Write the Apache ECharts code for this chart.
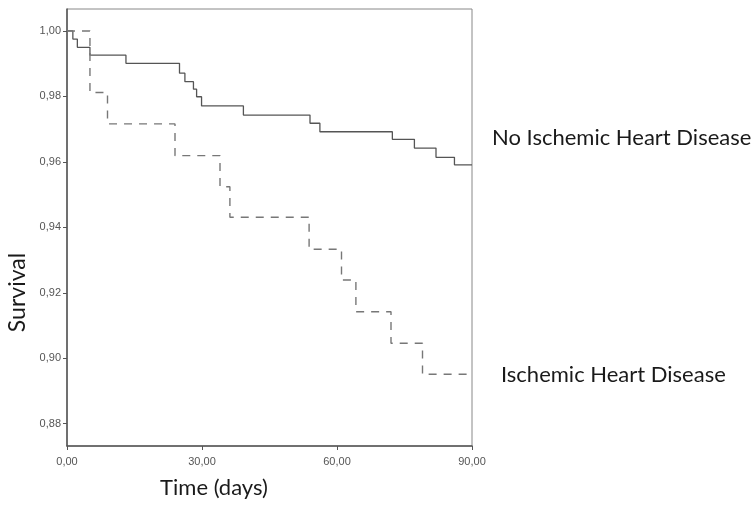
<!DOCTYPE html>
<html>
<head>
<meta charset="utf-8">
<title>Survival</title>
<script src="https://cdn.jsdelivr.net/npm/echarts@6/dist/echarts.min.js"></script>
<style>
  html, body { margin: 0; padding: 0; background: #fff; }
  #chart { width: 755px; height: 505px; }
</style>
</head>
<body>
<div id="chart"></div>
<script>
// Kaplan-Meier curves (time in days, survival fraction)
const noIhdTimes = [0, 1.3, 2.3, 5.1, 13.1, 25.0, 26.2, 28.1, 28.8, 29.9, 39.2, 54.0, 56.2, 72.3, 77.2, 82.0, 86.1, 90];
const noIhdSurvival = [1.0, 0.9975, 0.9950, 0.9926, 0.9901, 0.9871, 0.9845, 0.9822, 0.9799, 0.9771, 0.9743, 0.9718, 0.9692, 0.9669, 0.9642, 0.9614, 0.9591, 0.9591];

const ihdTimes = [0, 5.1, 9.0, 24.0, 34.0, 36.2, 53.8, 61.0, 64.2, 72.0, 79.0, 90];
const ihdSurvival = [1.0, 0.9812, 0.9716, 0.9619, 0.9524, 0.9431, 0.9333, 0.9239, 0.9142, 0.9046, 0.8951, 0.8951];

const seriesNames = ['No Ischemic Heart Disease', 'Ischemic Heart Disease'];
const yTicks = [0.88, 0.90, 0.92, 0.94, 0.96, 0.98, 1.00];
const xTicks = [0, 30, 60, 90];

const toPairs = (xs, ys) => xs.map((x, i) => [x, ys[i]]);
const commaFmt = v => Number(v).toFixed(2).replace('.', ',');

const chart = echarts.init(document.getElementById('chart'), null, { renderer: 'canvas' });

const tickLabel = { fontFamily: 'Liberation Sans, Arial, sans-serif', fontSize: 11, color: '#555' };
const titleFont = { fontFamily: 'Lato, Calibri, sans-serif', fontSize: 22, color: '#1a1a1a' };

chart.setOption({
  animation: false,
  grid: {
    left: 67, top: 9, width: 405, height: 437,
    outerBoundsMode: 'none',
    containLabel: false,
    show: true, borderColor: '#888', borderWidth: 1, backgroundColor: '#fff'
  },
  xAxis: {
    type: 'value',
    min: 0, max: 90, interval: 30,
    name: 'Time (days)',
    nameLocation: 'middle',
    nameGap: 31,
    nameTextStyle: Object.assign({}, titleFont, { padding: [0, 111, 0, 0] }),
    axisLine: { show: true, lineStyle: { color: '#555', width: 1.5 } },
    axisTick: { show: true, length: 4, lineStyle: { color: '#555' }, customValues: xTicks },
    axisLabel: Object.assign({}, tickLabel, { margin: 10, formatter: commaFmt, customValues: xTicks }),
    splitLine: { show: false }
  },
  yAxis: {
    type: 'value',
    min: 0.8732, max: 1.0067,
    name: 'Survival',
    nameLocation: 'middle',
    nameRotate: 90,
    nameGap: 34,
    nameTextStyle: Object.assign({}, titleFont, { fontSize: 23, padding: [0, 130, 0, 0] }),
    axisLine: { show: true, onZero: false, lineStyle: { color: '#555', width: 1.5 } },
    axisTick: { show: true, length: 4, lineStyle: { color: '#555' }, customValues: yTicks },
    axisLabel: Object.assign({}, tickLabel, { margin: 6, formatter: commaFmt, customValues: yTicks }),
    splitLine: { show: false }
  },
  series: [
    {
      name: seriesNames[0],
      type: 'line',
      step: 'end',
      data: toPairs(noIhdTimes, noIhdSurvival),
      symbol: 'none',
      lineStyle: { color: '#555', width: 1.3, type: 'solid' },
      endLabel: {
        show: true,
        formatter: '{a}',
        distance: 0,
        offset: [20, -27],
        fontFamily: titleFont.fontFamily, fontSize: titleFont.fontSize, color: titleFont.color
      }
    },
    {
      name: seriesNames[1],
      type: 'line',
      step: 'end',
      data: toPairs(ihdTimes, ihdSurvival),
      symbol: 'none',
      lineStyle: { color: '#777', width: 1.4, type: [8, 7] },
      endLabel: {
        show: true,
        formatter: '{a}',
        distance: 0,
        offset: [29, 1],
        fontFamily: titleFont.fontFamily, fontSize: titleFont.fontSize, color: titleFont.color
      }
    }
  ]
});
</script>
</body>
</html>
